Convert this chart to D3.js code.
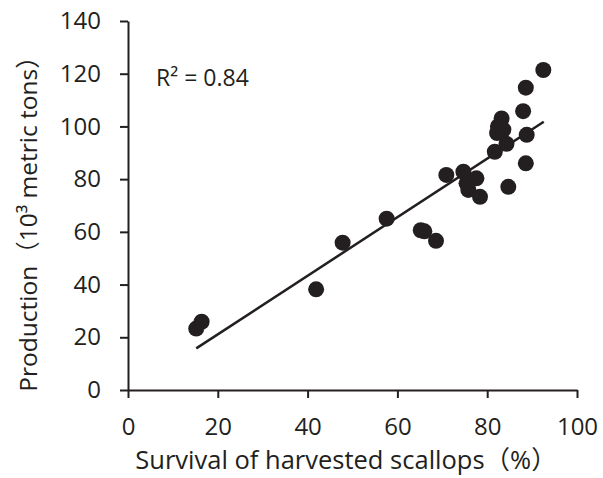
<!DOCTYPE html>
<html>
<head>
<meta charset="utf-8">
<script src="https://cdn.jsdelivr.net/npm/d3@7"></script>
<style>
  body { margin: 0; background: #fff; }
  svg text { font-family: "Open Sans", "Noto Sans CJK SC", sans-serif; fill: #231f20; }
</style>
</head>
<body>
<div id="grafScallop"></div>
<script>
// datos
const survival = [15.2, 16.4, 41.9, 47.8, 57.6, 65.2, 66.0, 68.6, 70.9, 74.7, 77.6, 75.4, 75.8, 78.4,
  84.7, 81.7, 84.3, 82.2, 82.4, 83.2, 83.6, 88.6, 88.8, 88.0, 88.6, 92.5];
const production = [23.3, 25.9, 38.2, 55.9, 65.0, 60.6, 60.2, 56.6, 81.6, 82.8, 80.3, 78.4, 75.9, 73.3,
  77.1, 90.4, 93.4, 97.5, 100.0, 103.0, 98.8, 86.0, 96.8, 105.8, 114.7, 121.4];
const xTicks = [0, 20, 40, 60, 80, 100];
const yTicks = [0, 20, 40, 60, 80, 100, 120, 140];
// recta de ajuste
const fitSlope = 1.111;
const fitIntercept = -1.1;
const fitRange = [15.2, 92.6];
const r2Label = "0.84";

const ink = "#231f20";
const W = 603, H = 478;

const svg = d3.select("#grafScallop").append("svg")
  .attr("width", W).attr("height", H);

// escaladores
const x = d3.scaleLinear().domain([0, 100]).range([128, 577]);
const y = d3.scaleLinear().domain([0, 140]).range([390, 21]);

// ejes
const xAxis = svg.append("g")
  .attr("transform", `translate(0,${y(0)})`)
  .call(d3.axisBottom(x).tickValues(xTicks).tickSize(8).tickSizeOuter(0).tickPadding(20));
const yAxis = svg.append("g")
  .attr("transform", `translate(${x(0)},0)`)
  .call(d3.axisLeft(y).tickValues(yTicks).tickSize(8).tickSizeOuter(0).tickPadding(19));

[xAxis, yAxis].forEach((g) => {
  g.select(".domain").attr("stroke", ink).attr("stroke-width", 2);
  g.selectAll(".tick line").attr("stroke", ink).attr("stroke-width", 2);
  g.selectAll(".tick text").attr("font-size", 24).attr("fill", ink)
    .attr("font-family", "'Open Sans', sans-serif");
});

// recta de regresion
svg.append("line")
  .attr("x1", x(fitRange[0])).attr("y1", y(fitSlope * fitRange[0] + fitIntercept))
  .attr("x2", x(fitRange[1])).attr("y2", y(fitSlope * fitRange[1] + fitIntercept))
  .attr("stroke", ink).attr("stroke-width", 2.5);

// puntos
svg.selectAll("circle.pt")
  .data(survival.map((s, i) => ({ s, p: production[i] })))
  .enter().append("circle")
  .attr("class", "pt")
  .attr("cx", (d) => x(d.s))
  .attr("cy", (d) => y(d.p))
  .attr("r", 8)
  .attr("fill", ink);

// R2
svg.append("text")
  .attr("x", 156).attr("y", 86)
  .attr("font-size", 23)
  .text(`R² = ${r2Label}`);

// titulos de ejes
svg.append("text")
  .attr("x", 346).attr("y", 469)
  .attr("text-anchor", "middle")
  .attr("font-size", 25.5)
  .text("Survival of harvested scallops（%）");

svg.append("text")
  .attr("transform", "translate(37,218) rotate(-90)")
  .attr("text-anchor", "middle")
  .attr("font-size", 24.5)
  .text("Production（10³ metric tons）");
</script>
</body>
</html>
